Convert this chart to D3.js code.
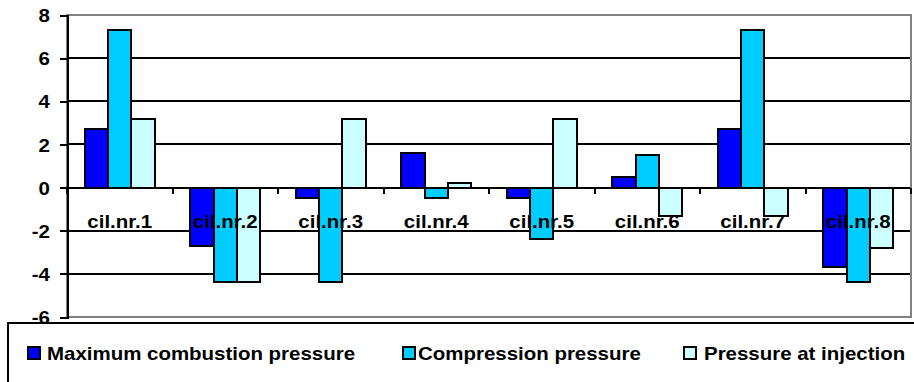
<!DOCTYPE html>
<html>
<head>
<meta charset="utf-8">
<script src="https://cdn.jsdelivr.net/npm/d3@7"></script>
<style>
  html, body { margin: 0; padding: 0; background: #fff; }
  svg { display: block; }
  text { font-family: "Liberation Sans", Arial, sans-serif; font-weight: bold; fill: #000; }
</style>
</head>
<body>
<svg id="chart" width="914" height="382"></svg>
<script>
// Cylinder deviations per pressure type
const categories = ["cil.nr.1", "cil.nr.2", "cil.nr.3", "cil.nr.4", "cil.nr.5", "cil.nr.6", "cil.nr.7", "cil.nr.8"];
const seriesNames = ["Maximum combustion pressure", "Compression pressure", "Pressure at injection"];
const maxCombustion = [2.7, -2.7, -0.5, 1.6, -0.5, 0.5, 2.7, -3.7];
const compression   = [7.3, -4.4, -4.4, -0.5, -2.4, 1.5, 7.3, -4.4];
const atInjection   = [3.2, -4.4, 3.2, 0.2, 3.2, -1.3, -1.3, -2.8];
const seriesColors  = ["#0000FF", "#00CCFF", "#CCFFFF"];
const yTicks = [-6, -4, -2, 0, 2, 4, 6, 8];

const series = [maxCombustion, compression, atInjection];
const svg = d3.select("#chart");

const plotLeft = 67, plotRight = 911, plotTop = 15, plotBottom = 317;
const stretch = 1.1; // horizontal text stretch
const fontSize = 18.6;

const x = d3.scaleBand().domain(categories).range([plotLeft, plotRight]).paddingInner(0).paddingOuter(0);
const y = d3.scaleLinear().domain([-6, 8]).range([plotBottom, plotTop]);
const barW = x.bandwidth() / 4.5;
const inner = d3.scaleBand().domain(d3.range(series.length))
  .range([barW * 0.75, barW * 0.75 + barW * series.length]);

// gridlines
svg.append("g").selectAll("line")
  .data(yTicks.filter(v => v > -6 && v < 8))
  .join("line")
  .attr("x1", plotLeft).attr("x2", plotRight)
  .attr("y1", d => y(d)).attr("y2", d => y(d))
  .attr("stroke", "#000").attr("stroke-width", 2)
  .attr("shape-rendering", "crispEdges");

// plot frame
svg.append("rect")
  .attr("x", plotLeft).attr("y", plotTop)
  .attr("width", plotRight - plotLeft).attr("height", plotBottom - plotTop)
  .attr("fill", "none").attr("stroke", "#808080").attr("stroke-width", 2)
  .attr("shape-rendering", "crispEdges");

// bars
series.forEach((vals, si) => {
  svg.append("g").selectAll("rect")
    .data(vals)
    .join("rect")
    .attr("x", (d, i) => x(categories[i]) + inner(si))
    .attr("width", inner.bandwidth())
    .attr("y", d => y(Math.max(0, d)))
    .attr("height", d => Math.abs(y(d) - y(0)))
    .attr("fill", seriesColors[si])
    .attr("stroke", "#000").attr("stroke-width", 2)
    .attr("shape-rendering", "crispEdges");
});

// category ticks along the zero line
const xb = categories.map(c => x(c)).concat([plotRight]);
svg.append("g").selectAll("line")
  .data(xb)
  .join("line")
  .attr("x1", d => d).attr("x2", d => d)
  .attr("y1", y(0)).attr("y2", y(0) + 6)
  .attr("stroke", "#000").attr("stroke-width", 2)
  .attr("shape-rendering", "crispEdges");

// y axis
const yAxis = svg.append("g").attr("transform", `translate(${plotLeft},0)`)
  .call(d3.axisLeft(y).tickValues(yTicks).tickSize(7).tickPadding(10).tickFormat(d => String(d)));
yAxis.select(".domain").attr("stroke", "#000").attr("stroke-width", 2).attr("shape-rendering", "crispEdges");
yAxis.selectAll(".tick line").attr("stroke", "#000").attr("stroke-width", 2).attr("shape-rendering", "crispEdges");
yAxis.selectAll(".tick text")
  .attr("font-size", fontSize).attr("font-family", null).attr("fill", "#000")
  .attr("dy", "0.36em")
  .each(function () {
    const t = d3.select(this);
    const xx = +t.attr("x");
    t.attr("x", 0).attr("transform", `translate(${xx},0) scale(${stretch},1)`);
  });

// category labels
svg.append("g").selectAll("text")
  .data(categories)
  .join("text")
  .attr("text-anchor", "middle")
  .attr("font-size", fontSize)
  .attr("transform", d => `translate(${x(d) + x.bandwidth() / 2},228.3) scale(${stretch},1)`)
  .text(d => d);

// legend
const legend = svg.append("g");
legend.append("rect")
  .attr("x", 8).attr("y", 323).attr("width", 920).attr("height", 80)
  .attr("fill", "#fff").attr("stroke", "#000").attr("stroke-width", 2)
  .attr("shape-rendering", "crispEdges");
const legendSwatchX = [28, 403, 684];
const legendTextX = [47, 418, 704];
seriesNames.forEach((name, i) => {
  legend.append("rect")
    .attr("x", legendSwatchX[i]).attr("y", 347).attr("width", 12).attr("height", 12)
    .attr("fill", seriesColors[i]).attr("stroke", "#000").attr("stroke-width", 2)
    .attr("shape-rendering", "crispEdges");
  legend.append("text")
    .attr("font-size", fontSize)
    .attr("transform", `translate(${legendTextX[i]},359.5) scale(${stretch},1)`)
    .text(name);
});
</script>
</body>
</html>
